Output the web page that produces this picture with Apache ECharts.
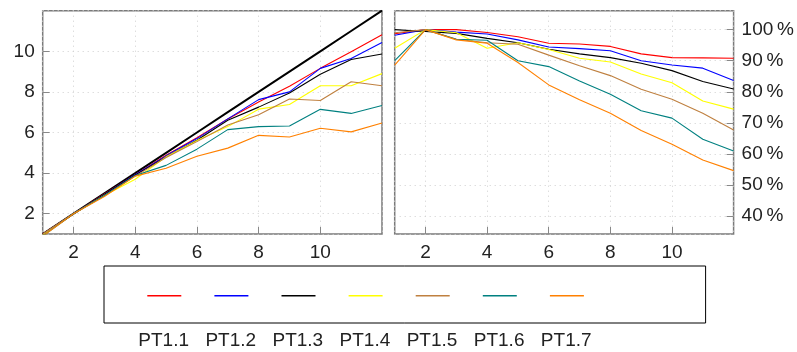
<!DOCTYPE html>
<html>
<head>
<meta charset="utf-8">
<script src="https://cdn.jsdelivr.net/npm/echarts@6/dist/echarts.min.js"></script>
<style>
  html, body { margin: 0; padding: 0; background: #fff; }
  #chart { width: 797px; height: 352px; }
</style>
</head>
<body>
<div id="chart"></div>
<script>
// threads
var threads = [1, 2, 3, 4, 5, 6, 7, 8, 9, 10, 11, 12];
var idealSpeedup = [1, 2, 3, 4, 5, 6, 7, 8, 9, 10, 11, 12];

var names = ['PT1.1', 'PT1.2', 'PT1.3', 'PT1.4', 'PT1.5', 'PT1.6', 'PT1.7'];
var colors = ['#ff0000', '#0000ff', '#000000', '#ffff00', '#bf8040', '#008080', '#ff8000'];

// speedup (left)
var speedup11 = [1.0, 2.0, 2.97, 3.92, 4.88, 5.74, 6.67, 7.5, 8.28, 9.16, 9.98, 10.81];
var speedup12 = [0.98, 2.0, 2.95, 3.92, 4.85, 5.7, 6.67, 7.62, 8.0, 9.16, 9.65, 10.43];
var speedup13 = [1.0, 2.0, 2.95, 3.9, 4.8, 5.62, 6.6, 7.25, 7.95, 8.87, 9.6, 9.87];
var speedup14 = [0.95, 2.0, 2.9, 3.7, 4.8, 5.6, 6.29, 7.15, 7.38, 8.3, 8.3, 8.9];
var speedup15 = [1.0, 2.0, 2.9, 3.85, 4.77, 5.55, 6.37, 6.87, 7.65, 7.58, 8.5, 8.3];
var speedup16 = [0.9, 2.0, 2.9, 3.88, 4.38, 5.18, 6.14, 6.29, 6.32, 7.14, 6.94, 7.33];
var speedup17 = [0.89, 2.0, 2.85, 3.85, 4.24, 4.83, 5.23, 5.86, 5.78, 6.21, 6.03, 6.47];

// efficiency in % (right)
var eff11 = [98.7, 100, 100, 99.1, 97.7, 95.6, 95.4, 94.6, 92.2, 91.0, 90.9, 90.8];
var eff12 = [98.2, 100, 99.2, 98.6, 96.7, 94.4, 93.9, 93.2, 90.0, 88.6, 87.6, 83.6];
var eff13 = [100, 99.4, 98.8, 97.2, 95.8, 93.7, 92.2, 91.0, 89.2, 86.8, 83.3, 80.9];
var eff14 = [94.0, 100, 99.0, 94.0, 95.8, 93.6, 90.8, 89.6, 85.7, 82.9, 77.0, 74.4];
var eff15 = [99.0, 100, 96.9, 95.8, 95.3, 91.8, 88.4, 85.2, 80.8, 77.6, 73.1, 67.7];
var eff16 = [90.0, 100, 96.9, 96.6, 90.0, 88.1, 83.5, 79.2, 73.9, 71.5, 64.7, 60.9];
var eff17 = [88.6, 100, 96.7, 95.6, 89.4, 82.2, 77.4, 73.1, 67.5, 63.1, 58.0, 54.6];

var speedups = [speedup11, speedup12, speedup13, speedup14, speedup15, speedup16, speedup17];
var effs = [eff11, eff12, eff13, eff14, eff15, eff16, eff17];

var FONT = 'Liberation Sans';
var TXT = '#222';
var GRIDLINE = {show: true, lineStyle: {color: '#cfcfcf', type: [1, 4], width: 1}};
var TICK = {inside: true, length: 7, lineStyle: {color: '#888', width: 1}};

function pairs(xs, ys){
	return xs.map(function(x, i){ return [x, ys[i]]; });
}

function xAxisOf(gridIndex){
	return {
		type: 'value', gridIndex: gridIndex, min: 1, max: 12, splitNumber: 5,
		axisLine: {show: false},
		axisTick: TICK,
		axisLabel: {showMinLabel: false, showMaxLabel: false, color: TXT, fontFamily: FONT, fontSize: 19, margin: 9},
		splitLine: GRIDLINE
	};
}

var series = [];
// ideal line
series.push({
	name: 'ideal', type: 'line', xAxisIndex: 0, yAxisIndex: 0,
	data: pairs(threads, idealSpeedup), symbol: 'none', silent: true,
	lineStyle: {color: '#000', width: 2}, z: 1
});
names.forEach(function(name, i){
	series.push({
		name: name, type: 'line', xAxisIndex: 0, yAxisIndex: 0,
		data: pairs(threads, speedups[i]), symbol: 'none',
		color: colors[i], lineStyle: {color: colors[i], width: 1.1}, z: 2
	});
	series.push({
		name: name, type: 'line', xAxisIndex: 1, yAxisIndex: 1,
		data: pairs(threads, effs[i]), symbol: 'none',
		color: colors[i], lineStyle: {color: colors[i], width: 1.1}, z: 2
	});
});

var chart = echarts.init(document.getElementById('chart'), null, {renderer: 'canvas'});
chart.setOption({
	animation: false,
	backgroundColor: '#fff',
	grid: [
		{left: 42.7, top: 10.7, width: 339.3, height: 223.3, show: true, borderColor: '#7a7a7a', borderWidth: 1.5},
		{left: 394.7, top: 10.7, width: 340, height: 223.3, show: true, borderColor: '#7a7a7a', borderWidth: 1.5}
	],
	xAxis: [xAxisOf(0), xAxisOf(1)],
	yAxis: [
		{
			type: 'value', gridIndex: 0, min: 1, max: 12, splitNumber: 5,
			axisLine: {show: false},
			axisTick: TICK,
			axisLabel: {showMinLabel: false, showMaxLabel: false, color: TXT, fontFamily: FONT, fontSize: 19, margin: 8},
			splitLine: GRIDLINE
		},
		{
			type: 'value', gridIndex: 1, position: 'right', min: 34.2, max: 106.1, splitNumber: 7,
			axisLine: {show: false},
			axisTick: TICK,
			axisLabel: {
				showMinLabel: false, showMaxLabel: false, color: TXT, fontFamily: FONT, fontSize: 19, margin: 8,
				formatter: function(v){ return v + '\u2009%'; }
			},
			splitLine: GRIDLINE
		}
	],
	legend: [
		// line samples inside the box
		{
			data: names, left: 104, top: 266, orient: 'horizontal',
			padding: [28.9, 116.7, 26.5, 43.3],
			borderColor: '#000', borderWidth: 1,
			icon: 'rect', itemWidth: 34, itemHeight: 1.6, itemGap: 28.1,
			formatter: function(){ return ''; },
			textStyle: {fontSize: 1, lineHeight: 1}
		},
		// names under the box
		{
			data: names, left: 133.3, top: 331, orient: 'horizontal', padding: 0,
			icon: 'none', itemWidth: 0, itemHeight: 14, itemGap: 11.4,
			textStyle: {color: TXT, fontFamily: FONT, fontSize: 19}
		}
	],
	series: series
});
</script>
</body>
</html>
